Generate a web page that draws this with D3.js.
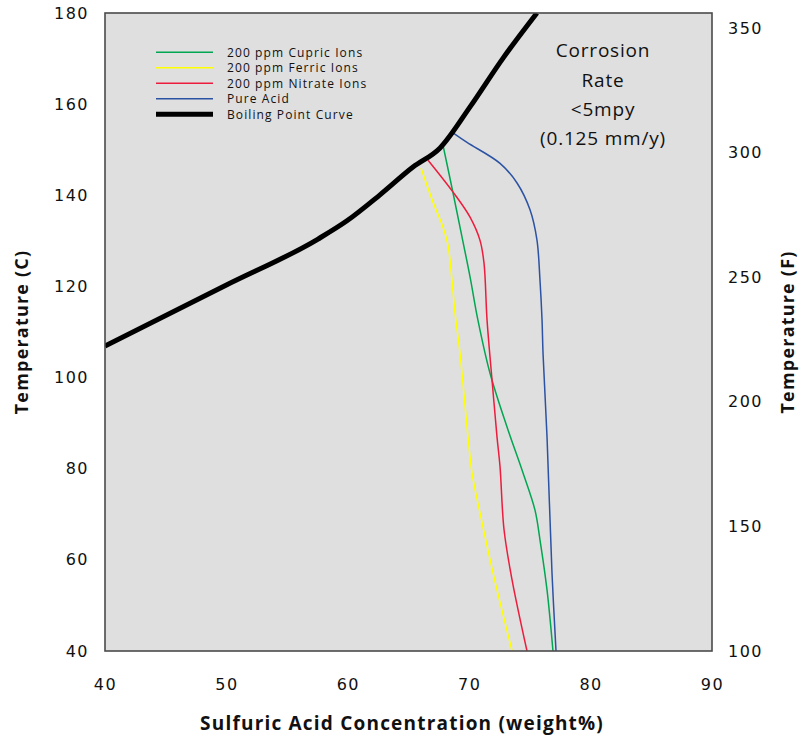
<!DOCTYPE html>
<html>
<head>
<meta charset="utf-8">
<script src="https://cdn.jsdelivr.net/npm/d3@7"></script>
<style>
  html, body { margin: 0; padding: 0; background: #fff; }
  svg { display: block; }
</style>
</head>
<body>
<svg id="chart" width="801" height="740"></svg>
<script>
// ---- data ----
const xTicks = [40, 50, 60, 70, 80, 90];
const yTicksC = [40, 60, 80, 100, 120, 140, 160, 180];
const yTicksF = [100, 150, 200, 250, 300, 350];

const boilingPoint = [
  [40, 106.9], [50, 120.3], [57.55, 130.4], [59.93, 134.4], [62.65, 140.1],
  [65.37, 146.2], [67.6, 150.4], [70.07, 159.4], [72.79, 170.1], [75.58, 180.0]
];
const pureAcid = [
  [68.67, 153.7], [69.82, 151.6], [72.54, 147.0], [73.94, 142.7], [75.01, 136.8],
  [75.58, 130.2], [75.83, 121.4], [76.0, 112.6], [76.08, 105.4], [76.41, 87.0],
  [76.82, 57.1], [77.15, 40]
];
const cupricIons = [
  [67.84, 151.0], [68.67, 140.5], [69.41, 130.8], [70.07, 122.1], [70.72, 112.6],
  [71.71, 101.0], [73.11, 89.2], [74.43, 79.1], [75.42, 70.9], [75.83, 64.4],
  [76.41, 53.4], [76.90, 40]
];
const nitrateIons = [
  [66.61, 147.7], [68.67, 140.7], [70.07, 135.2], [70.89, 130.1], [71.22, 125.1],
  [71.47, 112.6], [71.88, 99.5], [72.29, 87.0], [72.54, 80.4], [72.87, 66.6],
  [73.53, 55.6], [74.76, 40]
];
const ferricIons = [
  [66.03, 146.0], [67.02, 138.5], [67.84, 133.0], [68.25, 129.1], [68.58, 121.4],
  [68.83, 114.2], [69.24, 105.4], [69.90, 87.0], [70.23, 79.1], [70.89, 70.3],
  [71.63, 61.1], [72.29, 53.4], [73.53, 40]
];
const legendLabels = ["200 ppm Cupric Ions", "200 ppm Ferric Ions", "200 ppm Nitrate Ions", "Pure Acid", "Boiling Point Curve"];
const noteLines = ["Corrosion", "Rate", "<5mpy", "(0.125 mm/y)"];

// ---- styles ----
const colors = { cupric: "#00a651", ferric: "#ffff00", nitrate: "#ed1c3c", pure: "#2b52a3", boil: "#000000" };
const series = [
  { data: cupricIons, color: colors.cupric, w: 1.5, curve: d3.curveCatmullRom.alpha(0.5) },
  { data: ferricIons, color: colors.ferric, w: 1.5, curve: d3.curveCatmullRom.alpha(0.5) },
  { data: nitrateIons, color: colors.nitrate, w: 1.5, curve: d3.curveCatmullRom.alpha(0.5) },
  { data: pureAcid, color: colors.pure, w: 1.5, curve: d3.curveCatmullRom.alpha(0.5) },
  { data: boilingPoint, color: colors.boil, w: 5, curve: d3.curveMonotoneX }
];

const L = 105, R = 712, T = 13, B = 651;
const svg = d3.select("#chart");
const x = d3.scaleLinear().domain([40, 90]).range([L, R]);
const y = d3.scaleLinear().domain([40, 180]).range([B, T]);
const yF = d3.scaleLinear().domain([100, 356]).range([B, T]);

svg.append("defs").append("clipPath").attr("id", "clip")
  .append("rect").attr("x", L).attr("y", T).attr("width", R - L).attr("height", B - T);

svg.append("rect").attr("x", L).attr("y", T).attr("width", R - L).attr("height", B - T)
  .attr("fill", "#dfdfdf");

const g = svg.append("g").attr("clip-path", "url(#clip)");
series.forEach(s => {
  const line = d3.line().x(d => x(d[0])).y(d => y(d[1])).curve(s.curve);
  g.append("path").attr("d", line(s.data)).attr("fill", "none")
    .attr("stroke", s.color).attr("stroke-width", s.w).attr("stroke-linejoin", "round");
});

svg.append("rect").attr("x", L).attr("y", T).attr("width", R - L).attr("height", B - T)
  .attr("fill", "none").attr("stroke", "#4a4a4a").attr("stroke-width", 1.6);

const tickFont = "'DejaVu Sans', Verdana, sans-serif";
// axes (labels only, no tick marks)
const ax = svg.append("g").attr("transform", `translate(0,${B})`)
  .call(d3.axisBottom(x).tickValues(xTicks).tickSize(0).tickPadding(28).tickFormat(d3.format("d")));
const ay = svg.append("g").attr("transform", `translate(${L},0)`)
  .call(d3.axisLeft(y).tickValues(yTicksC).tickSize(0).tickPadding(16).tickFormat(d3.format("d")));
const ar = svg.append("g").attr("transform", `translate(${R},0)`)
  .call(d3.axisRight(yF).tickValues(yTicksF).tickSize(0).tickPadding(16).tickFormat(d3.format("d")));
[ax, ay, ar].forEach(a => {
  a.select(".domain").remove();
  a.selectAll("text").attr("font-family", tickFont).attr("font-size", 16)
    .attr("letter-spacing", 1.5).attr("fill", "#111");
});

const titleFont = "'Open Sans', sans-serif";
const titleAttrs = (sel, size, ls) => sel.attr("font-family", titleFont).attr("font-weight", 700)
  .attr("font-size", size).attr("letter-spacing", ls).attr("fill", "#111").attr("text-anchor", "middle");
svg.append("text").attr("x", 402).attr("y", 730).call(titleAttrs, 19, 1.2)
  .text("Sulfuric Acid Concentration (weight%)");
svg.append("text").attr("transform", "translate(28,332) rotate(-90)").call(titleAttrs, 18, 1.2)
  .text("Temperature (C)");
svg.append("text").attr("transform", "translate(794,332) rotate(-90)").call(titleAttrs, 18, 1.2)
  .text("Temperature (F)");

// legend
const legY = [52.3, 67.8, 83.3, 98.8, 114.3];
legendLabels.forEach((lab, i) => {
  svg.append("line").attr("x1", 156).attr("x2", 213).attr("y1", legY[i]).attr("y2", legY[i])
    .attr("stroke", series[i].color).attr("stroke-width", i === 4 ? 5 : 1.5);
  svg.append("text").attr("x", 227).attr("y", legY[i] + 4.3)
    .attr("font-family", titleFont).attr("font-size", 12).attr("letter-spacing", 1.1)
    .attr("fill", "#111").text(lab);
});

// note
const noteY = [57, 87, 116, 145];
noteLines.forEach((t, i) => {
  svg.append("text").attr("x", 603).attr("y", noteY[i]).attr("text-anchor", "middle")
    .attr("font-family", titleFont).attr("font-size", 19).attr("letter-spacing", 0.8)
    .attr("fill", "#111").text(t);
});
</script>
</body>
</html>
